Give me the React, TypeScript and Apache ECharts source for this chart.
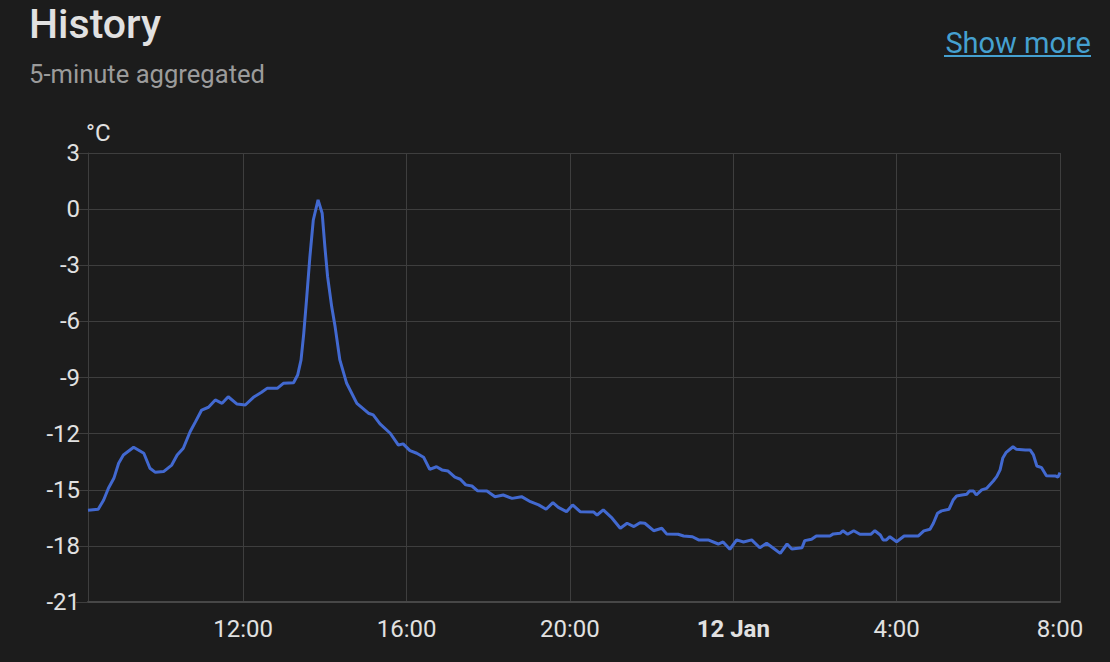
import React, { useEffect, useRef } from "react";
import * as echarts from "echarts";

// Time stamps ("day HH:MM", January) and temperatures in °C
const times: string[] = [
  "11 08:12", "11 08:27", "11 08:35", "11 08:42", "11 08:50", "11 08:57", "11 09:04", "11 09:19",
  "11 09:34", "11 09:43", "11 09:51", "11 10:03", "11 10:15", "11 10:23", "11 10:32", "11 10:42",
  "11 10:50", "11 10:59", "11 11:09", "11 11:19", "11 11:29", "11 11:38", "11 11:51", "11 12:03",
  "11 12:15", "11 12:27", "11 12:35", "11 12:50", "11 12:59", "11 13:14", "11 13:20", "11 13:25",
  "11 13:29", "11 13:33", "11 13:38", "11 13:43", "11 13:50", "11 13:56", "11 14:00", "11 14:04",
  "11 14:10", "11 14:15", "11 14:22", "11 14:32", "11 14:47", "11 15:04", "11 15:11", "11 15:21",
  "11 15:36", "11 15:48", "11 15:55", "11 16:05", "11 16:15", "11 16:25", "11 16:34", "11 16:44",
  "11 16:52", "11 17:01", "11 17:11", "11 17:19", "11 17:27", "11 17:36", "11 17:44", "11 17:58",
  "11 18:10", "11 18:22", "11 18:35", "11 18:49", "11 19:02", "11 19:14", "11 19:25", "11 19:35",
  "11 19:43", "11 19:55", "11 20:04", "11 20:15", "11 20:35", "11 20:40", "11 20:49", "11 21:02",
  "11 21:14", "11 21:24", "11 21:34", "11 21:43", "11 21:50", "11 22:03", "11 22:15", "11 22:22",
  "11 22:39", "11 22:47", "11 23:00", "11 23:09", "11 23:23", "11 23:38", "11 23:45", "11 23:55",
  "12 00:05", "12 00:15", "12 00:27", "12 00:39", "12 00:49", "12 00:59", "12 01:09", "12 01:19",
  "12 01:26", "12 01:41", "12 01:45", "12 01:55", "12 02:02", "12 02:22", "12 02:27", "12 02:37",
  "12 02:41", "12 02:48", "12 02:57", "12 03:06", "12 03:22", "12 03:28", "12 03:36", "12 03:40",
  "12 03:45", "12 03:50", "12 04:00", "12 04:11", "12 04:32", "12 04:40", "12 04:49", "12 04:54",
  "12 05:00", "12 05:06", "12 05:17", "12 05:23", "12 05:28", "12 05:36", "12 05:43", "12 05:47",
  "12 05:53", "12 05:57", "12 06:05", "12 06:12", "12 06:22", "12 06:27", "12 06:32", "12 06:36",
  "12 06:41", "12 06:51", "12 06:56", "12 07:09", "12 07:16", "12 07:21", "12 07:26", "12 07:33",
  "12 07:40", "12 07:53", "12 07:57", "12 08:00",
];

const temps: number[] = [
  -16.1, -16.04, -15.55, -14.92, -14.39, -13.58, -13.14, -12.73,
  -13.05, -13.85, -14.07, -14.03, -13.68, -13.14, -12.78, -11.9,
  -11.36, -10.74, -10.59, -10.2, -10.38, -10.03, -10.42, -10.47,
  -10.06, -9.79, -9.58, -9.58, -9.31, -9.28, -8.87, -8.06,
  -6.64, -4.86, -2.54, -0.58, 0.49, -0.22, -2.01, -3.61,
  -5.21, -6.28, -8.06, -9.31, -10.38, -10.91, -11.0, -11.48,
  -11.98, -12.61, -12.55, -12.91, -13.05, -13.26, -13.91, -13.77,
  -13.94, -14.0, -14.33, -14.44, -14.74, -14.8, -15.05, -15.07,
  -15.37, -15.28, -15.46, -15.37, -15.64, -15.81, -16.04, -15.69,
  -15.94, -16.17, -15.81, -16.17, -16.19, -16.35, -16.08, -16.52,
  -17.06, -16.79, -16.97, -16.76, -16.79, -17.19, -17.06, -17.36,
  -17.38, -17.47, -17.51, -17.68, -17.68, -17.9, -17.79, -18.18,
  -17.68, -17.79, -17.68, -18.1, -17.86, -18.13, -18.4, -17.9,
  -18.17, -18.1, -17.72, -17.65, -17.47, -17.47, -17.36, -17.33,
  -17.19, -17.38, -17.19, -17.38, -17.38, -17.19, -17.42, -17.68,
  -17.68, -17.51, -17.78, -17.47, -17.47, -17.2, -17.11, -16.79,
  -16.26, -16.13, -16.04, -15.55, -15.33, -15.28, -15.24, -15.07,
  -15.07, -15.28, -15.01, -14.93, -14.53, -14.3, -13.94, -13.3,
  -13.0, -12.7, -12.84, -12.87, -12.87, -13.14, -13.73, -13.82,
  -14.25, -14.26, -14.33, -14.09,
];

const axisStart = "11 08:12";
const axisEnd = "12 08:00";
const yTicks = { min: -21, max: 3, step: 3 };

const toTime = (s: string): number => {
  const [d, hm] = s.split(" ");
  const [h, m] = hm.split(":").map(Number);
  return new Date(2025, 0, Number(d), h, m).getTime();
};

const GRID = "#3e3e3e";
const TEXT = "#e1e1e1";
const FONT = "Roboto";

export default function App() {
  const ref = useRef<HTMLDivElement>(null);
  useEffect(() => {
    if (!ref.current) return;
    const chart = echarts.init(ref.current, null, { renderer: "svg" });
    const data = times.map((t, i) => [toTime(t), temps[i]]);
    chart.setOption({
      animation: false,
      backgroundColor: "#1c1c1c",
      textStyle: { fontFamily: FONT },
      grid: { left: 88, right: 50, top: 153, bottom: 60, containLabel: false },
      xAxis: {
        type: "time",
        min: toTime(axisStart),
        max: toTime(axisEnd),
        minInterval: 4 * 3600 * 1000,
        maxInterval: 4 * 3600 * 1000,
        axisLine: { show: true, onZero: false, lineStyle: { color: "#474747", width: 2 } },
        axisTick: { show: false },
        splitLine: { show: true, lineStyle: { color: GRID, width: 1 } },
        axisLabel: {
          color: TEXT,
          fontSize: 24,
          fontFamily: FONT,
          margin: 15,
          showMinLabel: false,
          hideOverlap: false,
          formatter: (val: number) => {
            const d = new Date(val);
            if (d.getMinutes() !== 0 || d.getHours() % 4 !== 0) return "";
            if (d.getHours() === 0) return "{b|" + d.getDate() + " Jan}";
            return d.getHours() + ":00";
          },
          rich: {
            b: { fontWeight: "bold", fontSize: 24, color: TEXT, fontFamily: FONT },
          },
        },
      },
      yAxis: {
        type: "value",
        min: yTicks.min,
        max: yTicks.max,
        interval: yTicks.step,
        name: "°C",
        nameLocation: "end",
        nameGap: 8,
        nameTextStyle: {
          color: TEXT,
          fontSize: 24,
          fontFamily: FONT,
          align: "left",
          verticalAlign: "bottom",
          padding: [0, 0, 0, -2],
        },
        axisLine: { show: true, lineStyle: { color: GRID, width: 1 } },
        axisTick: { show: true, length: 12, lineStyle: { color: GRID, width: 1 } },
        splitLine: { show: true, lineStyle: { color: GRID, width: 1 } },
        axisLabel: { color: TEXT, fontSize: 24, fontFamily: FONT, margin: 8 },
      },
      series: [
        {
          type: "line",
          data,
          showSymbol: false,
          clip: false,
          lineStyle: { color: "#4269d0", width: 3 },
          itemStyle: { color: "#4269d0" },
        },
      ],
      graphic: [
        {
          type: "text",
          x: 29,
          y: 24,
          style: {
            text: "History",
            fill: "#e1e1e1",
            font: "500 41px Roboto",
            verticalAlign: "middle",
          },
        },
        {
          type: "text",
          x: 29,
          y: 74,
          style: {
            text: "5-minute aggregated",
            fill: "#9b9b9b",
            font: "400 25.6px Roboto",
            verticalAlign: "middle",
          },
        },
        {
          type: "text",
          x: 1091,
          y: 43,
          style: {
            text: "Show more",
            fill: "#45a0d0",
            font: "400 29px Roboto",
            align: "right",
            verticalAlign: "middle",
          },
        },
        {
          type: "rect",
          shape: { x: 944, y: 55, width: 147, height: 2 },
          style: { fill: "#45a0d0" },
        },
      ],
    });
    return () => chart.dispose();
  }, []);
  return (
    <div
      ref={ref}
      style={{ position: "fixed", left: 0, top: 0, width: 1110, height: 662, background: "#1c1c1c" }}
    />
  );
}
